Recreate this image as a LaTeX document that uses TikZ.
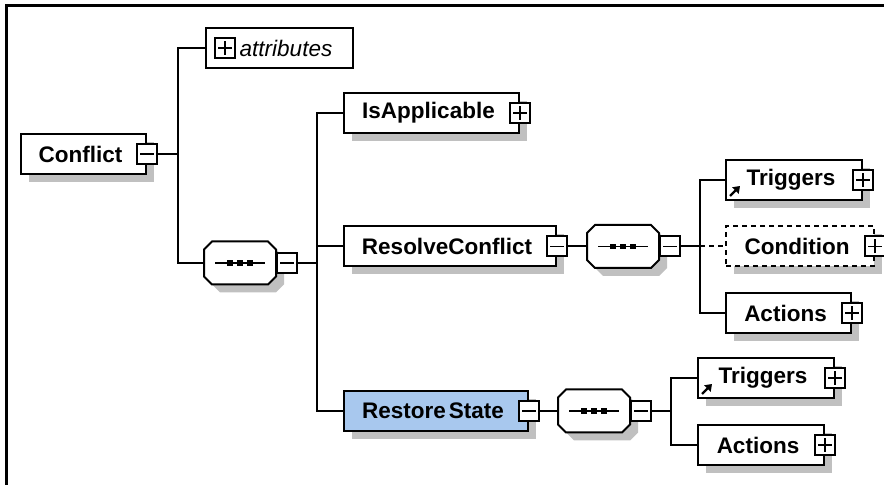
\documentclass[tikz,border=0pt]{standalone}
\usepackage{fontspec}
\setmainfont{Liberation Sans}
\usetikzlibrary{shadows,
arrows.meta,
positioning}
\definecolor{selblue}{HTML}{A8C8EE}
\definecolor{shadegray}{HTML}{C0C0C0}
\newcommand*{\seqshape}[1]{%
  \draw [fill = white, shade box]
  ([xshift = 4pt]#1.north west) -- ([xshift = -4pt]#1.north east)
  -- ([yshift = -4pt]#1.north east) -- ([yshift = 4pt]#1.south east)
  -- ([xshift = -4pt]#1.south east) -- ([xshift = 4pt]#1.south west)
  -- ([yshift = 4pt]#1.south west) -- ([yshift = -4pt]#1.north west) -- cycle;
  \draw [line width = .8pt] ([xshift = -12.5pt]#1.center) -- ([xshift = 12.5pt]#1.center);
  \foreach \d in {-5, 0, 5}
    \fill [black] ([xshift = \d pt]#1.center) ++(-1.3pt, -1.3pt) rectangle ++(2.6pt, 2.6pt);}

\begin{document}
\begin{tikzpicture} [x = 0.5pt, y = -0.5pt,
  line width = 1pt,
  every node/.style = {inner sep = 0pt},
  shade box/.style = {drop shadow = {shadow xshift = 4pt, shadow yshift = -4pt,
      fill = shadegray, opacity = 1}},
  elem/.style = {rectangle, draw, fill = white, shade box,
      minimum height = 20pt, anchor = west,
      font = \fontsize{11.25}{13.5}\selectfont\bfseries,
      execute at end node = {\hspace*{3pt}}},
  attrbox/.style = {rectangle, draw, fill = white,
      minimum height = 20pt, anchor = west,
      font = \fontsize{11.25}{13.5}\selectfont\itshape},
  minusbox/.style = {rectangle, draw, fill = white, minimum size = 10pt,
      path picture = {
          \draw [line width = .9pt] ([xshift = -3.5pt]path picture bounding box.center)
          -- ([xshift = 3.5pt]path picture bounding box.center);}},
  plusbox/.style = {rectangle, draw, fill = white, minimum size = 10pt,
      path picture = {
          \draw [line width = .9pt] ([xshift = -3.5pt]path picture bounding box.center)
          -- ([xshift = 3.5pt]path picture bounding box.center);
          \draw [line width = .9pt] ([yshift = -3.5pt]path picture bounding box.center)
          -- ([yshift = 3.5pt]path picture bounding box.center);}},
  seq/.style = {rectangle, minimum width = 35pt, minimum height = 20.5pt, anchor = west},
  refelem/.style = {path picture = {
          \draw [line width = 1.1pt, -{Triangle[length = 3.2pt, width = 4.4pt]}]
          ([shift = {(2pt, 2pt)}]path picture bounding box.south west) -- ++(5pt, 5pt);}}]

  \useasboundingbox (0, 0) rectangle (884, 485);
  \draw [line width = 1.1pt] (6.5, 485) |- (884, 5.5);

  \node [elem, minimum width = 62.5pt] (conflict) at (20, 154) {Conflict};
  \node [minusbox] (conflict-x) at (conflict.east) {};

  \node [attrbox, minimum width = 73.5pt] (attrs) at (205, 48) {\hspace*{6.5pt}attributes};
  \node [plusbox] (attrs-x) at ([xshift = 10pt]attrs.west) {};

  \node [seq] (seq1) at (204, 263) {};
  \seqshape{seq1}
  \node [minusbox, anchor = west] (seq1-x) at (seq1.east) {};

  \node [elem, minimum width = 87.5pt] (isappl) at (343, 113) {IsApplicable};
  \node [plusbox] (isappl-x) at (isappl.east) {};

  \node [elem, minimum width = 106pt] (resolve) at (343, 246.5) {ResolveConflict};
  \node [minusbox] (resolve-x) at (resolve.east) {};

  \node [elem, fill = selblue, minimum width = 92pt] (restore) at (343, 411) {Restore\kern1.5pt State};
  \node [minusbox] (restore-x) at (restore.east) {};

  % sequence of ResolveConflict
  \node [seq] (seq2) at (587, 246.5) {};
  \seqshape{seq2}
  \node [minusbox, anchor = west] (seq2-x) at (seq2.east) {};

  \node [elem, refelem, minimum width = 68pt] (trig1) at (725, 180) {Triggers};
  \node [plusbox] (trig1-x) at (trig1.east) {};
  \node [elem, dashed, dash pattern = on 2.5pt off 2pt, minimum width = 74pt] (cond) at (725, 246.5) {Condition};
  \node [plusbox] (cond-x) at (cond.east) {};
  \node [elem, minimum width = 62.5pt] (act1) at (725, 313) {Actions};
  \node [plusbox] (act1-x) at (act1.east) {};

  % sequence of RestoreState
  \node [seq] (seq3) at (558, 411) {};
  \seqshape{seq3}
  \node [minusbox, anchor = west] (seq3-x) at (seq3.east) {};

  \node [elem, refelem, minimum width = 68pt] (trig2) at (697, 378) {Triggers};
  \node [plusbox] (trig2-x) at (trig2.east) {};
  \node [elem, minimum width = 63pt] (act2) at (697, 445) {Actions};
  \node [plusbox] (act2-x) at (act2.east) {};

  \draw (conflict-x.east) -- ++(20, 0) |- (attrs.west);
  \draw (conflict-x.east) -- ++(20, 0) |- (seq1.west);

  \draw (seq1-x.east) -- ++(19, 0) |- (isappl.west);
  \draw (seq1-x.east) -- ++(19, 0) |- (resolve.west);
  \draw (seq1-x.east) -- ++(19, 0) |- (restore.west);

  \draw (resolve-x.east) -- (seq2.west);
  \draw (seq2-x.east) -- ++(19, 0) coordinate (bus2) |- (trig1.west);
  \draw [dash pattern = on 2.5pt off 2pt] (bus2) -- (cond.west);
  \draw (bus2) |- (act1.west);

  \draw (restore-x.east) -- (seq3.west);
  \draw (seq3-x.east) -- ++(19, 0) |- (trig2.west);
  \draw (seq3-x.east) -- ++(19, 0) |- (act2.west);

\end{tikzpicture}
\end{document}
